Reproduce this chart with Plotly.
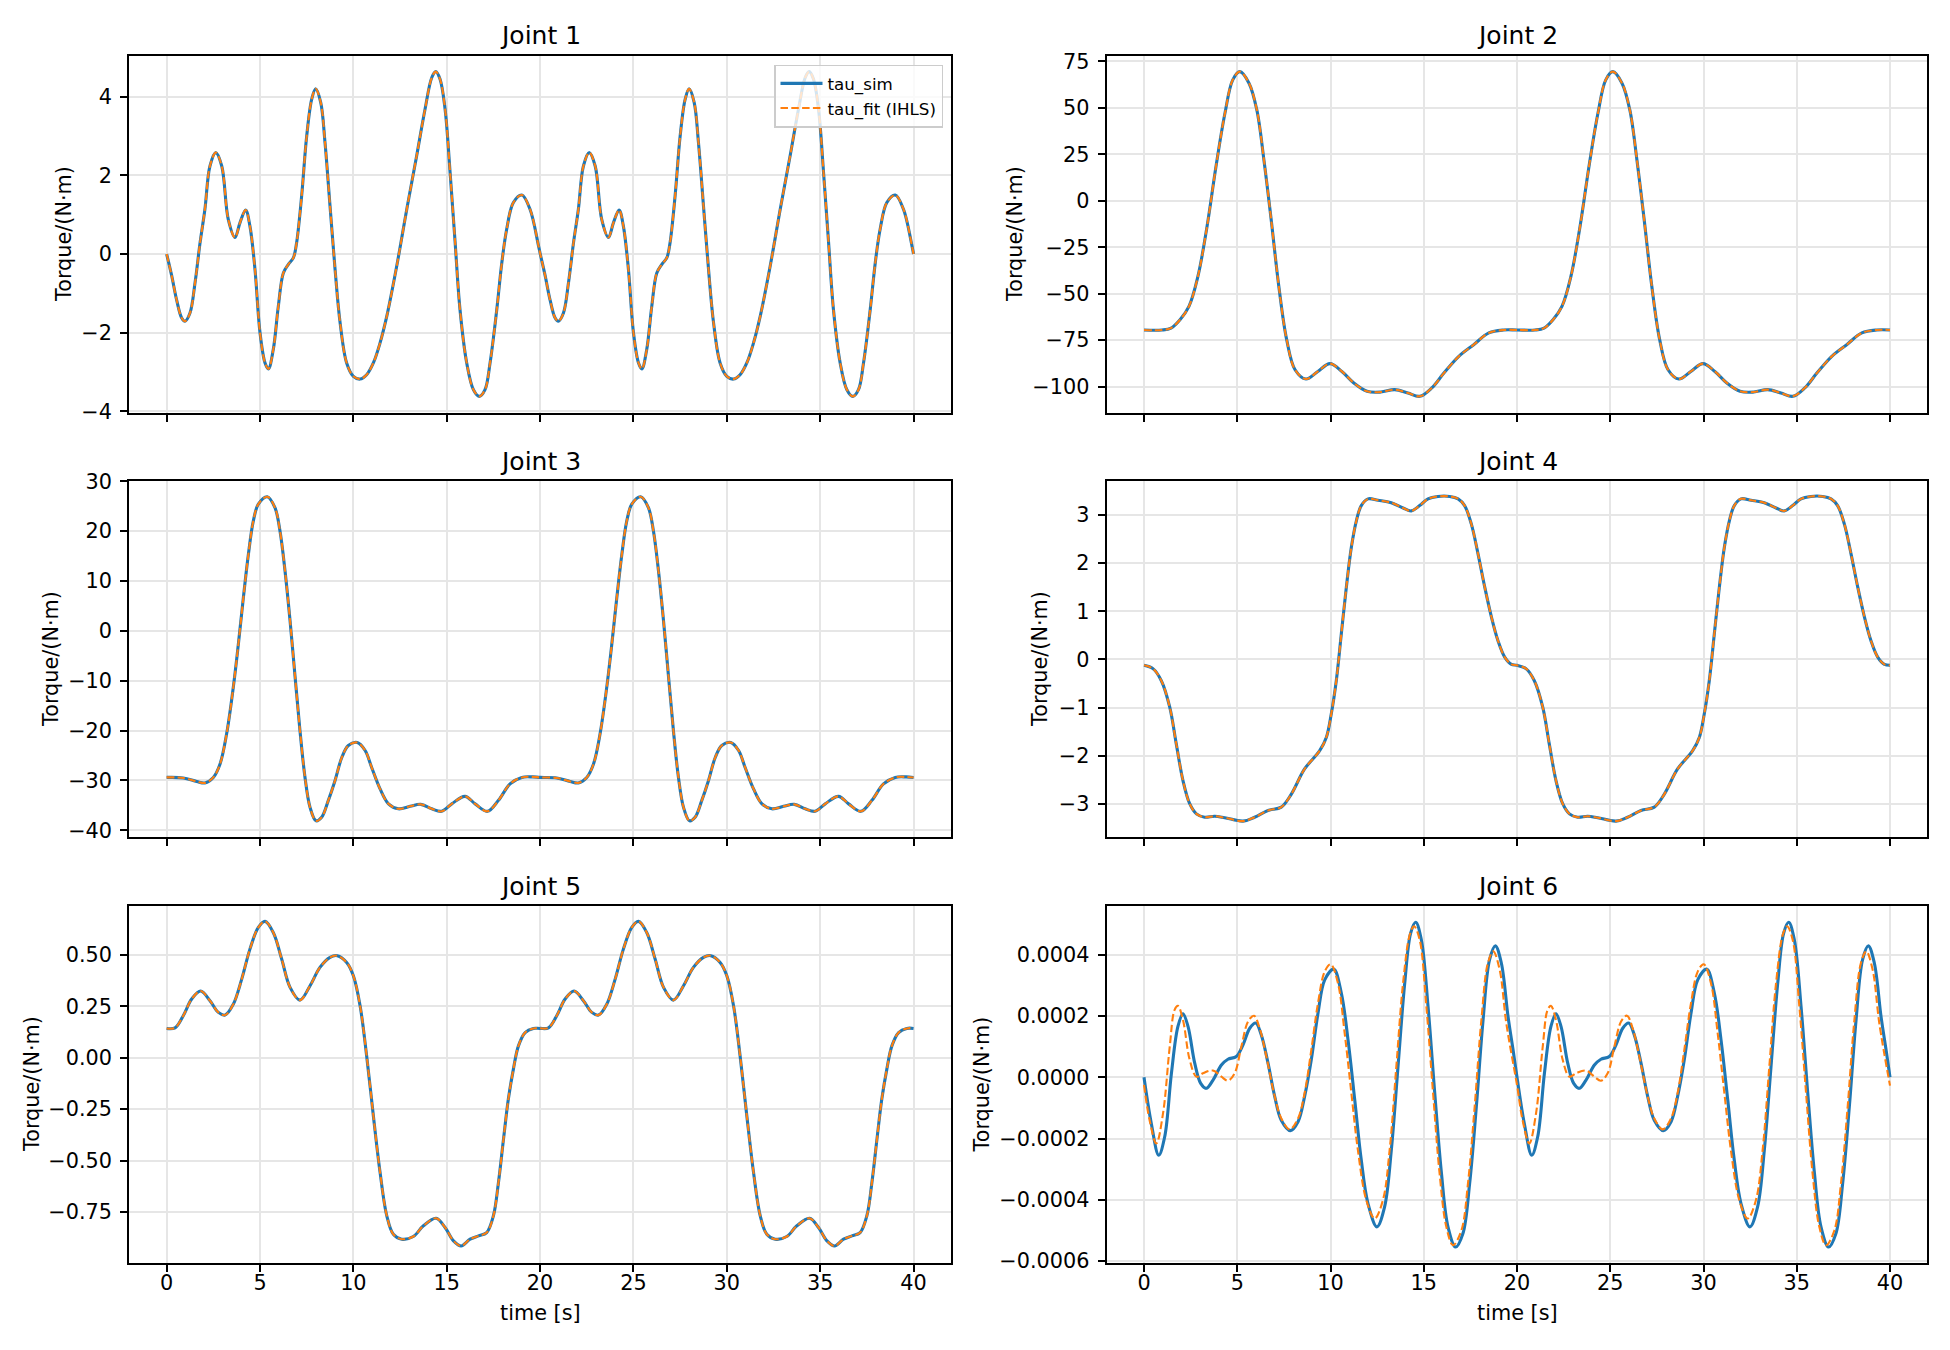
import plotly.graph_objects as go

W, H = 1950, 1350
FONT = "DejaVu Sans"
BLUE = "#1f77b4"
ORANGE = "#ff7f0e"
GRID = "#e6e6e6"

# ---------------- data ----------------
# Joint 1
j1_t_a = [0, 0.27, 0.54, 0.80, 0.98, 1.25, 1.52, 1.79, 2.05, 2.32, 2.63, 2.95, 3.30, 3.66, 3.93,
          4.23, 4.46, 4.73, 5.0, 5.27, 5.45, 5.71, 5.98, 6.25, 6.52, 6.79, 6.96, 7.23, 7.5, 7.77,
          7.98, 8.25, 8.48, 8.75, 9.02, 9.29, 9.64, 10.0, 10.36, 10.71, 11.07, 11.43, 11.79, 12.32, 12.86,
          13.39, 13.84, 14.2, 14.41, 14.64, 14.91, 15.18, 15.45, 15.71, 16.07, 16.43, 16.75, 17.05, 17.32, 17.68,
          17.95, 18.21, 18.57, 19.02, 19.46, 19.91]
j1_t_b = [20.0, 20.27, 20.54, 20.80, 20.98, 21.25, 21.52, 21.79, 22.05, 22.32, 22.63, 22.95, 23.30, 23.66, 23.93,
          24.23, 24.46, 24.73, 25.0, 25.27, 25.45, 25.71, 25.98, 26.25, 26.52, 26.79, 26.96, 27.23, 27.5, 27.77,
          27.98, 28.25, 28.48, 28.75, 29.02, 29.29, 29.64, 30.0, 30.36, 30.71, 31.07, 31.43, 31.79, 32.32, 32.86,
          33.39, 33.84, 34.2, 34.41, 34.64, 34.91, 35.18, 35.45, 35.71, 36.07, 36.43, 36.75, 37.05, 37.32, 37.68,
          37.95, 38.21, 38.57, 39.02, 39.46, 39.91, 40.0]
j1_sim_a = [0, -0.55, -1.18, -1.62, -1.71, -1.50, -0.73, 0.29, 1.14, 2.24, 2.58, 2.24, 0.88, 0.42, 0.80,
            1.12, 0.71, -0.39, -2.0, -2.77, -2.92, -2.43, -1.33, -0.48, -0.26, -0.09, 0.29, 1.48, 3.0, 3.94,
            4.20, 3.86, 2.84, 1.22, -0.39, -1.75, -2.77, -3.11, -3.18, -3.07, -2.77, -2.26, -1.58, -0.31, 1.14,
            2.50, 3.69, 4.49, 4.64, 4.45, 3.69, 2.07, 0.29, -1.41, -2.77, -3.45, -3.62, -3.45, -2.77, -1.41,
            -0.22, 0.63, 1.31, 1.50, 1.14, 0.22]
j1_sim_b = [0.02, -0.55, -1.18, -1.62, -1.71, -1.50, -0.73, 0.29, 1.14, 2.24, 2.58, 2.24, 0.88, 0.42, 0.80,
            1.12, 0.71, -0.39, -2.0, -2.77, -2.92, -2.43, -1.33, -0.48, -0.26, -0.09, 0.29, 1.48, 3.0, 3.94,
            4.20, 3.86, 2.84, 1.22, -0.39, -1.75, -2.77, -3.11, -3.18, -3.07, -2.77, -2.26, -1.58, -0.31, 1.14,
            2.50, 3.69, 4.49, 4.64, 4.45, 3.69, 2.07, 0.29, -1.41, -2.77, -3.45, -3.62, -3.45, -2.77, -1.41,
            -0.22, 0.63, 1.31, 1.50, 1.14, 0.22, 0.0]
j1_t = j1_t_a + j1_t_b
j1_sim = j1_sim_a + j1_sim_b
j1_fit = list(j1_sim)   # fit overlaps the simulation

# Joint 2
j2_t_a = [0, 0.96, 1.45, 1.93, 2.41, 2.89, 3.38, 3.86, 4.34, 4.76, 5.14, 5.63, 6.05, 6.43, 6.82, 7.23, 7.65,
          8.10, 8.68, 9.32, 9.97, 10.61, 11.25, 11.96, 12.70, 13.44, 14.15, 14.79, 15.43, 16.08, 16.88, 17.68,
          18.49, 19.29]
j2_t_b = [20.0, 20.96, 21.45, 21.93, 22.41, 22.89, 23.38, 23.86, 24.34, 24.76, 25.14, 25.63, 26.05, 26.43, 26.82,
          27.23, 27.65, 28.10, 28.68, 29.32, 29.97, 30.61, 31.25, 31.96, 32.70, 33.44, 34.15, 34.79, 35.43, 36.08,
          36.88, 37.68, 38.49, 39.29, 40.0]
j2_sim_a = [-69.5, -69.5, -68.5, -64.0, -56.8, -40.7, -13.8, 18.5, 47.1, 65.1, 69.5, 63.3, 48.9, 22.0, -10.2,
            -46.1, -74.7, -90.9, -95.9, -91.8, -87.6, -91.8, -98.0, -102.5, -102.9, -101.6, -103.4, -105.2,
            -100.7, -92.7, -83.7, -77.4, -71.1, -69.5]
j2_sim_b = [-69.5, -69.5, -68.5, -64.0, -56.8, -40.7, -13.8, 18.5, 47.1, 65.1, 69.5, 63.3, 48.9, 22.0, -10.2,
            -46.1, -74.7, -90.9, -95.9, -91.8, -87.6, -91.8, -98.0, -102.5, -102.9, -101.6, -103.4, -105.2,
            -100.7, -92.7, -83.7, -77.4, -71.1, -69.5, -69.5]
j2_t = j2_t_a + j2_t_b
j2_sim = j2_sim_a + j2_sim_b
j2_fit = list(j2_sim)

# Joint 3
j3_t_a = [0, 0.89, 1.61, 2.05, 2.5, 2.86, 3.21, 3.57, 3.84, 4.11, 4.38, 4.64, 4.91, 5.39, 5.80, 6.07, 6.34,
          6.61, 6.88, 7.14, 7.41, 7.68, 8.0, 8.30, 8.66, 9.02, 9.38, 9.73, 10.21, 10.63, 10.98, 11.43, 11.88,
          12.41, 13.04, 13.61, 14.20, 14.73, 15.27, 15.98, 16.52, 17.18, 17.77, 18.39, 19.02, 19.6]
j3_t_b = [20.0, 20.89, 21.61, 22.05, 22.5, 22.86, 23.21, 23.57, 23.84, 24.11, 24.38, 24.64, 24.91, 25.39, 25.80,
          26.07, 26.34, 26.61, 26.88, 27.14, 27.41, 27.68, 28.0, 28.30, 28.66, 29.02, 29.38, 29.73, 30.21, 30.63,
          30.98, 31.43, 31.88, 32.41, 33.04, 33.61, 34.20, 34.73, 35.27, 35.98, 36.52, 37.18, 37.77, 38.39, 39.02,
          39.6, 40.0]
j3_sim_a = [-29.4, -29.5, -30.2, -30.5, -29.4, -26.7, -20.7, -11.3, -2.7, 6.7, 15.4, 22.0, 25.4, 26.9, 24.7,
            20.0, 12.0, 2.0, -9.3, -20.0, -29.4, -35.4, -38.1, -37.4, -34.0, -30.0, -25.4, -23.0, -22.4, -24.0,
            -27.4, -31.7, -34.7, -35.7, -35.2, -34.8, -35.7, -36.2, -34.7, -33.2, -34.7, -36.2, -34.0, -30.7,
            -29.4, -29.3]
j3_sim_b = [-29.4, -29.5, -30.2, -30.5, -29.4, -26.7, -20.7, -11.3, -2.7, 6.7, 15.4, 22.0, 25.4, 26.9, 24.7,
            20.0, 12.0, 2.0, -9.3, -20.0, -29.4, -35.4, -38.1, -37.4, -34.0, -30.0, -25.4, -23.0, -22.4, -24.0,
            -27.4, -31.7, -34.7, -35.7, -35.2, -34.8, -35.7, -36.2, -34.7, -33.2, -34.7, -36.2, -34.0, -30.7,
            -29.4, -29.3, -29.4]
j3_t = j3_t_a + j3_t_b
j3_sim = j3_sim_a + j3_sim_b
j3_fit = list(j3_sim)

# Joint 4
j4_t_a = [0, 0.48, 0.93, 1.38, 1.73, 2.09, 2.45, 2.81, 3.25, 3.79, 4.33, 5.31, 5.93, 6.65, 7.36, 7.90, 8.61,
          9.42, 9.78, 10.04, 10.31, 10.58, 10.85, 11.12, 11.39, 11.65, 12.01, 12.55, 13.26, 13.89, 14.33, 14.78,
          15.23, 15.76, 16.39, 16.84, 17.19, 17.55, 17.91, 18.27, 18.63, 18.98, 19.34, 19.70]
j4_t_b = [20.0, 20.48, 20.93, 21.38, 21.73, 22.09, 22.45, 22.81, 23.25, 23.79, 24.33, 25.31, 25.93, 26.65, 27.36,
          27.90, 28.61, 29.42, 29.78, 30.04, 30.31, 30.58, 30.85, 31.12, 31.39, 31.65, 32.01, 32.55, 33.26, 33.89,
          34.33, 34.78, 35.23, 35.76, 36.39, 36.84, 37.19, 37.55, 37.91, 38.27, 38.63, 38.98, 39.34, 39.70, 40.0]
j4_sim_a = [-0.12, -0.19, -0.44, -0.99, -1.75, -2.51, -2.99, -3.20, -3.27, -3.25, -3.28, -3.35, -3.27, -3.13,
            -3.06, -2.79, -2.27, -1.89, -1.61, -1.13, -0.44, 0.53, 1.50, 2.33, 2.88, 3.19, 3.33, 3.30, 3.25, 3.14,
            3.08, 3.19, 3.33, 3.38, 3.38, 3.33, 3.19, 2.81, 2.19, 1.50, 0.88, 0.39, 0.05, -0.10]
j4_sim_b = [-0.12, -0.19, -0.44, -0.99, -1.75, -2.51, -2.99, -3.20, -3.27, -3.25, -3.28, -3.35, -3.27, -3.13,
            -3.06, -2.79, -2.27, -1.89, -1.61, -1.13, -0.44, 0.53, 1.50, 2.33, 2.88, 3.19, 3.33, 3.30, 3.25, 3.14,
            3.08, 3.19, 3.33, 3.38, 3.38, 3.33, 3.19, 2.81, 2.19, 1.50, 0.88, 0.39, 0.05, -0.10, -0.12]
j4_t = j4_t_a + j4_t_b
j4_sim = j4_sim_a + j4_sim_b
j4_fit = list(j4_sim)

# Joint 5
j5_t_a = [0, 0.45, 0.89, 1.34, 1.82, 2.32, 2.77, 3.13, 3.57, 4.02, 4.46, 4.91, 5.27, 5.71, 6.16, 6.61, 7.14,
          7.68, 8.21, 8.75, 9.14, 9.64, 10.0, 10.36, 10.71, 11.07, 11.43, 11.79, 12.14, 12.59, 13.21, 13.75,
          14.43, 14.91, 15.36, 15.77, 16.25, 16.70, 17.14, 17.50, 17.77, 18.04, 18.30, 18.57, 18.84, 19.20, 19.64]
j5_t_b = [20.0, 20.45, 20.89, 21.34, 21.82, 22.32, 22.77, 23.13, 23.57, 24.02, 24.46, 24.91, 25.27, 25.71, 26.16,
          26.61, 27.14, 27.68, 28.21, 28.75, 29.14, 29.64, 30.0, 30.36, 30.71, 31.07, 31.43, 31.79, 32.14, 32.59,
          33.21, 33.75, 34.43, 34.91, 35.36, 35.77, 36.25, 36.70, 37.14, 37.50, 37.77, 38.04, 38.30, 38.57, 38.84,
          39.20, 39.64, 40.0]
j5_sim_a = [0.143, 0.146, 0.205, 0.286, 0.325, 0.278, 0.221, 0.208, 0.261, 0.383, 0.529, 0.635, 0.664, 0.610,
            0.481, 0.343, 0.281, 0.351, 0.440, 0.489, 0.497, 0.464, 0.399, 0.253, 0.010, -0.282, -0.558, -0.769,
            -0.859, -0.883, -0.870, -0.818, -0.781, -0.826, -0.891, -0.916, -0.883, -0.867, -0.851, -0.769,
            -0.607, -0.396, -0.201, -0.055, 0.058, 0.123, 0.143]
j5_sim_b = [0.143, 0.146, 0.205, 0.286, 0.325, 0.278, 0.221, 0.208, 0.261, 0.383, 0.529, 0.635, 0.664, 0.610,
            0.481, 0.343, 0.281, 0.351, 0.440, 0.489, 0.497, 0.464, 0.399, 0.253, 0.010, -0.282, -0.558, -0.769,
            -0.859, -0.883, -0.870, -0.818, -0.781, -0.826, -0.891, -0.916, -0.883, -0.867, -0.851, -0.769,
            -0.607, -0.396, -0.201, -0.055, 0.058, 0.123, 0.143, 0.143]
j5_t = j5_t_a + j5_t_b
j5_sim = j5_sim_a + j5_sim_b
j5_fit = list(j5_sim)

# Joint 6 (values in units of 1e-4 N·m)
j6_t_sim_a = [0, 0.39, 0.79, 1.11, 1.47, 1.82, 2.09, 2.36, 2.72, 3.04, 3.34, 3.70, 4.15, 4.50, 4.95, 5.31, 5.67,
              5.99, 6.29, 6.65, 7.01, 7.36, 7.85, 8.26, 8.61, 8.97, 9.33, 9.69, 10.17, 10.58, 10.94, 11.30, 11.65,
              12.01, 12.49, 12.90, 13.26, 13.62, 13.98, 14.30, 14.57, 14.87, 15.23, 15.59, 15.95, 16.30, 16.71,
              17.10, 17.46, 17.82, 18.18, 18.53, 18.84, 19.16, 19.52, 19.80]
j6_t_sim_b = [20.0, 20.39, 20.79, 21.11, 21.47, 21.82, 22.09, 22.36, 22.72, 23.04, 23.34, 23.70, 24.15, 24.50,
              24.95, 25.31, 25.67, 25.99, 26.29, 26.65, 27.01, 27.36, 27.85, 28.26, 28.61, 28.97, 29.33, 29.69,
              30.17, 30.58, 30.94, 31.30, 31.65, 32.01, 32.49, 32.90, 33.26, 33.62, 33.98, 34.30, 34.57, 34.87,
              35.23, 35.59, 35.95, 36.30, 36.71, 37.10, 37.46, 37.82, 38.18, 38.53, 38.84, 39.16, 39.52, 39.80, 40.0]
j6_sim_a = [0, -1.50, -2.54, -1.94, 0.13, 1.66, 2.07, 1.66, 0.46, -0.20, -0.36, -0.09, 0.40, 0.59, 0.68, 1.06,
            1.60, 1.77, 1.38, 0.46, -0.63, -1.40, -1.74, -1.45, -0.63, 0.57, 2.09, 3.18, 3.53, 2.75, 1.22, -0.74,
            -2.70, -4.12, -4.88, -4.23, -2.38, 0.35, 3.07, 4.71, 5.06, 4.49, 2.31, -0.52, -3.14, -4.88, -5.54,
            -5.10, -3.47, -0.96, 1.87, 3.84, 4.29, 3.73, 1.98, 0.85]
j6_sim_b = [0, -1.50, -2.54, -1.94, 0.13, 1.66, 2.07, 1.66, 0.46, -0.20, -0.36, -0.09, 0.40, 0.59, 0.68, 1.06,
            1.60, 1.77, 1.38, 0.46, -0.63, -1.40, -1.74, -1.45, -0.63, 0.57, 2.09, 3.18, 3.53, 2.75, 1.22, -0.74,
            -2.70, -4.12, -4.88, -4.23, -2.38, 0.35, 3.07, 4.71, 5.06, 4.49, 2.31, -0.52, -3.14, -4.88, -5.54,
            -5.10, -3.47, -0.96, 1.87, 3.84, 4.29, 3.73, 1.98, 0.85, 0.0]
j6_t_fit_a = [0, 0.30, 0.66, 1.02, 1.38, 1.64, 1.82, 2.09, 2.45, 2.81, 3.16, 3.70, 4.15, 4.50, 4.86, 5.22, 5.58,
              5.90, 6.20, 6.56, 7.01, 7.36, 7.81, 8.26, 8.61, 8.97, 9.33, 9.69, 10.01, 10.40, 10.76, 11.12, 11.47,
              11.92, 12.37, 12.81, 13.17, 13.53, 13.89, 14.25, 14.48, 14.78, 15.14, 15.50, 15.85, 16.21, 16.57,
              17.02, 17.37, 17.73, 18.09, 18.44, 18.73, 19.07, 19.43]
j6_t_fit_b = [20.0, 20.30, 20.66, 21.02, 21.38, 21.64, 21.82, 22.09, 22.45, 22.81, 23.16, 23.70, 24.15, 24.50,
              24.86, 25.22, 25.58, 25.90, 26.20, 26.56, 27.01, 27.36, 27.81, 28.26, 28.61, 28.97, 29.33, 29.69,
              30.01, 30.40, 30.76, 31.12, 31.47, 31.92, 32.37, 32.81, 33.17, 33.53, 33.89, 34.25, 34.48, 34.78,
              35.14, 35.50, 35.85, 36.21, 36.57, 37.02, 37.37, 37.73, 38.09, 38.44, 38.73, 39.07, 39.43, 40.0]
j6_fit_a = [-0.25, -1.40, -2.16, -1.18, 1.00, 2.20, 2.33, 1.87, 0.57, 0.02, 0.13, 0.22, 0.02, -0.11, 0.13, 1.00,
            1.82, 2.01, 1.60, 0.68, -0.63, -1.34, -1.70, -1.34, -0.52, 0.89, 2.42, 3.45, 3.69, 3.07, 1.44, -0.52,
            -2.38, -4.01, -4.61, -4.01, -2.38, 0.35, 3.07, 4.65, 4.93, 4.49, 2.31, -0.52, -3.14, -4.88, -5.48,
            -4.99, -3.47, -0.96, 1.87, 3.73, 4.11, 3.51, 1.75]
j6_fit_b = [-0.25, -1.40, -2.16, -1.18, 1.00, 2.20, 2.33, 1.87, 0.57, 0.02, 0.13, 0.22, 0.02, -0.11, 0.13, 1.00,
            1.82, 2.01, 1.60, 0.68, -0.63, -1.34, -1.70, -1.34, -0.52, 0.89, 2.42, 3.45, 3.69, 3.07, 1.44, -0.52,
            -2.38, -4.01, -4.61, -4.01, -2.38, 0.35, 3.07, 4.65, 4.93, 4.49, 2.31, -0.52, -3.14, -4.88, -5.48,
            -4.99, -3.47, -0.96, 1.87, 3.73, 4.11, 3.51, 1.75, -0.27]
j6_t_sim = j6_t_sim_a + j6_t_sim_b
j6_t_fit = j6_t_fit_a + j6_t_fit_b
j6_sim = [v * 1e-4 for v in j6_sim_a + j6_sim_b]
j6_fit = [v * 1e-4 for v in j6_fit_a + j6_fit_b]

titles = ["Joint 1", "Joint 2", "Joint 3", "Joint 4", "Joint 5", "Joint 6"]
x_ticks = [0, 5, 10, 15, 20, 25, 30, 35, 40]
y_ticks = [
    [-4, -2, 0, 2, 4],
    [-100, -75, -50, -25, 0, 25, 50, 75],
    [-40, -30, -20, -10, 0, 10, 20, 30],
    [-3, -2, -1, 0, 1, 2, 3],
    [-0.75, -0.50, -0.25, 0.00, 0.25, 0.50],
    [-0.0006, -0.0004, -0.0002, 0.0, 0.0002, 0.0004],
]
y_fmt = ["{:.0f}", "{:.0f}", "{:.0f}", "{:.0f}", "{:.2f}", "{:.4f}"]
y_ranges = [[-4.03, 5.05], [-113.9, 78.2], [-41.35, 30.05], [-3.68, 3.70], [-0.999, 0.739], [-0.000606, 0.000559]]
legend_names = ["tau_sim", "tau_fit (IHLS)"]

series = [
    (j1_t, j1_sim, j1_t, j1_fit),
    (j2_t, j2_sim, j2_t, j2_fit),
    (j3_t, j3_sim, j3_t, j3_fit),
    (j4_t, j4_sim, j4_t, j4_fit),
    (j5_t, j5_sim, j5_t, j5_fit),
    (j6_t_sim, j6_sim, j6_t_fit, j6_fit),
]

# ---------------- layout geometry (pixels) ----------------
col_px = [(129.3, 950.9), (1106.7, 1927.3)]
row_px = [(55.5, 412.5), (481.0, 837.0), (906.0, 1263.0)]
ylabel_x_px = [64, 1015, 51, 1040, 31.5, 981]

def fmt(v, f):
    s = f.format(v)
    if s.startswith("-"):
        s = "\u2212" + s[1:]
    if s in ("\u22120", "\u22120.00", "\u22120.0000"):
        s = s[1:]
    return s

fig = go.Figure()
layout = dict(
    width=W, height=H, autosize=False,
    margin=dict(l=0, r=0, t=0, b=0, pad=0),
    paper_bgcolor="white", plot_bgcolor="white",
    font=dict(family=FONT, color="black", size=20.8),
    showlegend=True,
    legend=dict(x=943 / W, y=1 - 64.5 / H, xanchor="right", yanchor="top",
                bgcolor="rgba(255,255,255,0.8)", bordercolor="#cccccc", borderwidth=1.5,
                itemwidth=42,
                font=dict(family=FONT, size=16.7, color="black"), tracegroupgap=0),
)
annotations = []

for i, (ts, ys, tf, yf) in enumerate(series):
    k = i + 1
    row, col = divmod(i, 2)
    xa = "x" if k == 1 else f"x{k}"
    ya = "y" if k == 1 else f"y{k}"
    fig.add_trace(go.Scatter(x=ts, y=ys, xaxis=xa, yaxis=ya, mode="lines", name=legend_names[0],
                             line=dict(color=BLUE, width=3.1, shape="spline", smoothing=1.0),
                             showlegend=(k == 1), hoverinfo="skip"))
    fig.add_trace(go.Scatter(x=tf, y=yf, xaxis=xa, yaxis=ya, mode="lines", name=legend_names[1],
                             line=dict(color=ORANGE, width=2.1, dash="7.5px,3.3px", shape="spline", smoothing=1.0),
                             showlegend=(k == 1), hoverinfo="skip"))
    x0, x1 = col_px[col]
    top, bot = row_px[row]
    xdom = [x0 / W, x1 / W]
    ydom = [1 - bot / H, 1 - top / H]
    common = dict(showline=True, linecolor="black", linewidth=1.6, mirror=True,
                  ticks="outside", ticklen=7.3, tickwidth=1.6, tickcolor="black",
                  showgrid=True, gridcolor=GRID, gridwidth=1.6, zeroline=False,
                  tickfont=dict(family=FONT, size=20.8, color="black"), automargin=False)
    layout["xaxis" + ("" if k == 1 else str(k))] = dict(
        domain=xdom, anchor=ya, range=[-2, 42], tickmode="array",
        tickvals=x_ticks, ticktext=[str(v) for v in x_ticks],
        showticklabels=(row == 2), ticklabelstandoff=-7, **common)
    layout["yaxis" + ("" if k == 1 else str(k))] = dict(
        domain=ydom, anchor=xa, range=y_ranges[i], tickmode="array",
        tickvals=y_ticks[i], ticktext=[fmt(v, y_fmt[i]) for v in y_ticks[i]],
        ticklabelstandoff=4, **common)
    # subplot title
    annotations.append(dict(text=titles[i], xref="paper", yref="paper",
                            x=(x0 + x1) / 2 / W, y=1 - top / H, xanchor="center", yanchor="bottom",
                            yshift=3, showarrow=False, font=dict(family=FONT, size=25, color="black")))
    # y label
    annotations.append(dict(text="Torque/(N·m)", xref="paper", yref="paper",
                            x=ylabel_x_px[i] / W, y=1 - (top + bot) / 2 / H, xanchor="center", yanchor="middle",
                            textangle=-90, showarrow=False, font=dict(family=FONT, size=20.8, color="black")))
    if row == 2:
        annotations.append(dict(text="time [s]", xref="paper", yref="paper",
                                x=(x0 + x1) / 2 / W, y=1 - 1313 / H, xanchor="center", yanchor="middle",
                                showarrow=False, font=dict(family=FONT, size=20.8, color="black")))

layout["annotations"] = annotations
fig.update_layout(**layout)
fig.write_html("out.html")
